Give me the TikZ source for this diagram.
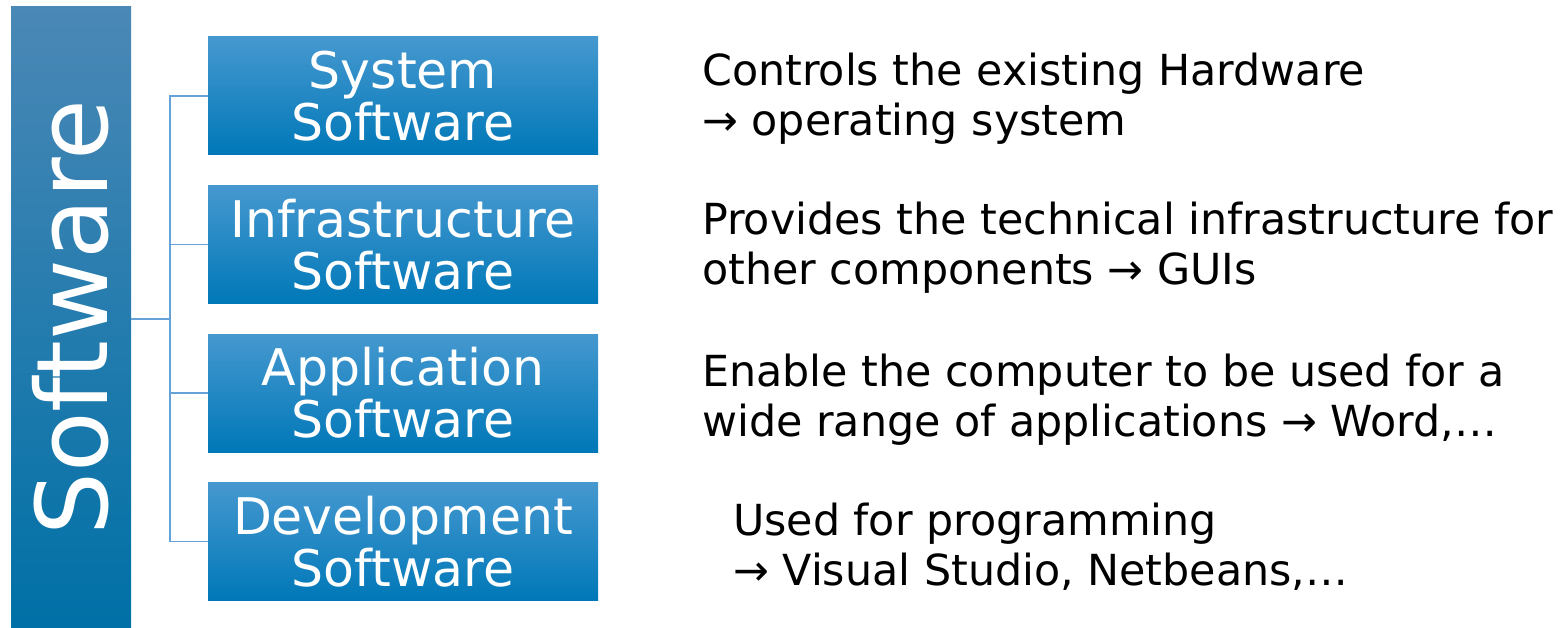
\documentclass[tikz,border=0pt]{standalone}
\usepackage{fontspec}
\setmainfont{DejaVu Sans}
\usetikzlibrary{positioning}

\definecolor{barTop}{RGB}{74,136,182}
\definecolor{barBot}{RGB}{0,112,166}
\definecolor{boxTop}{RGB}{70,152,207}
\definecolor{boxMid}{RGB}{0,136,202}
\definecolor{boxBot}{RGB}{0,120,184}
\definecolor{linkCol}{RGB}{100,162,215}

\tikzset{
  bar/.style={inner sep=0pt,minimum width=120pt,minimum height=621pt,
    top color=barTop,bottom color=barBot},
  kind/.style={inner sep=0pt,minimum width=390pt,minimum height=118pt,
    top color=boxTop,middle color=boxMid,bottom color=boxBot,
    text=white,align=center,font=\fontsize{50.5}{52}\selectfont},
  note/.style={anchor=base west,align=left,inner sep=0pt,
    font=\fontsize{42.8}{50}\selectfont},
  link/.style={draw=linkCol,line width=1.3pt}
}

\begin{document}
\begin{tikzpicture}[x=1pt,y=-1pt]
  \useasboundingbox (0,0) rectangle (1560,628);
  \node (bar) [bar] at (71,317.5) {};
  \node[rotate=90,text=white,font=\fontsize{99}{99}\selectfont] at (bar.center) {Software};
  \node (sys) [kind] at (403,96) {System\\Software};
  \node (inf) [kind] at (403,244.5) {Infrastructure\\Software};
  \node (app) [kind] at (403,393) {Application\\Software};
  \node (dev) [kind] at (403,541.5) {Development\\Software};
  % connectors
  \coordinate (fork) at (170,319);
  \draw[link] (bar.east |- fork) -- (fork);
  \draw[link] (sys.west) -| (fork) |- (dev.west);
  \draw[link] (inf.west) -- (inf.west -| fork);
  \draw[link] (app.west) -- (app.west -| fork);
  % descriptions (anchored at the baseline of the last line)
  \node (sysTxt) [note] at (702,136) {Controls the existing Hardware\\→ operating system};
  \node (infTxt) [note] at (702,284) {Provides the technical infrastructure for\\other components → GUIs};
  \node (appTxt) [note] at (702,436) {Enable the computer to be used for a\\wide range of applications → Word,…};
  \node (devTxt) [note] at (733,585) {Used for programming\\→ Visual Studio, Netbeans,…};
\end{tikzpicture}
\end{document}
